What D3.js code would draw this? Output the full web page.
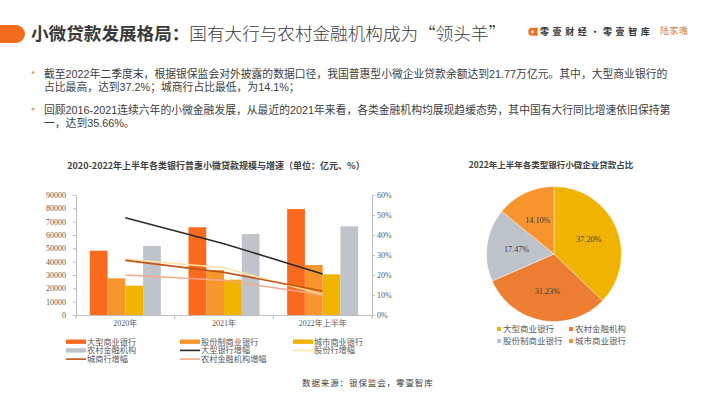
<!DOCTYPE html>
<html>
<head>
<meta charset="utf-8">
<script src="https://cdn.jsdelivr.net/npm/d3@7"></script>
<style>
body { margin: 0; background: #fff; }
svg text { font-family: 'Noto Sans CJK SC', sans-serif; }
.serif { font-family: 'Liberation Serif', 'Noto Sans CJK SC', serif !important; }
.body-text { font-family: 'Liberation Sans', 'Noto Sans CJK SC', sans-serif !important; }
</style>
</head>
<body>
<div id="container"></div>
<script>
'use strict';

const w = 710;
const h = 399;

// bar chart data (亿元) and growth (%)
const categories = ['2020年', '2021年', '2022年上半年'];
const bigBanks = [48200, 65800, 79500];
const jointStockBanks = [27500, 33700, 37500];
const cityBanks = [22000, 26500, 30500];
const ruralInstitutions = [51700, 60700, 66500];
const bigGrowth = [48.6, 35.66, 20.5];
const jointGrowth = [28.0, 23.6, 10.3];
const cityGrowth = [27.3, 21.3, 12.0];
const ruralGrowth = [20.0, 17.4, 10.0];
const leftTicks = [0, 10000, 20000, 30000, 40000, 50000, 60000, 70000, 80000, 90000];
const rightTicks = [0, 10, 20, 30, 40, 50, 60];

// pie data (%)
const pieNames = ['大型商业银行', '农村金融机构', '股份制商业银行', '城市商业银行'];
const pieValues = [37.20, 31.23, 17.47, 14.10];
const pieLabels = ['37.20%', '31.23%', '17.47%', '14.10%'];

const bulletLines = [
    ['截至2022年二季度末，根据银保监会对外披露的数据口径，我国普惠型小微企业贷款余额达到21.77万亿元。其中，大型商业银行的',
     '占比最高，达到37.2%；城商行占比最低，为14.1%；'],
    ['回顾2016-2021连续六年的小微金融发展，从最近的2021年来看，各类金融机构均展现趋缓态势，其中国有大行同比增速依旧保持第',
     '一，达到35.66%。']
];

const barSeries = [
    {name: '大型商业银行', values: bigBanks, color: '#FA6A1E'},
    {name: '股份制商业银行', values: jointStockBanks, color: '#F7962D'},
    {name: '城市商业银行', values: cityBanks, color: '#F0B400'},
    {name: '农村金融机构', values: ruralInstitutions, color: '#BFC4CA'}
];
const lineSeries = [
    {name: '大型银行增幅', values: bigGrowth, color: '#2B2B2B'},
    {name: '股份行增幅', values: jointGrowth, color: '#FFE3A0'},
    {name: '城商行增幅', values: cityGrowth, color: '#C0561A'},
    {name: '农村金融机构增幅', values: ruralGrowth, color: '#F5A98A'}
];
const pieColors = ['#F0B400', '#ED7D31', '#BEC3C9', '#F7942E'];

const svg = d3.select('#container')
                .append('svg')
                .attr('width', w)
                .attr('height', h);

// ---- header ----
svg.append('rect')
    .attr('x', -12).attr('y', 25)
    .attr('width', 37).attr('height', 18)
    .attr('rx', 9)
    .attr('fill', '#F26B1D');

const title = svg.append('text')
    .attr('x', 31)
    .attr('y', 34)
    .attr('dy', '0.36em')
    .attr('font-size', 17.6)
    .attr('fill', '#3a3a3a');
title.append('tspan').attr('font-weight', 'bold').text('小微贷款发展格局：');
title.append('tspan').attr('font-weight', 300).text('国有大行与农村金融机构成为“领头羊”');

// logo
svg.append('circle')
    .attr('cx', 532.3).attr('cy', 31.8).attr('r', 2.8)
    .attr('fill', 'none').attr('stroke', '#F26B1D').attr('stroke-width', 2.4);
svg.append('rect')
    .attr('x', 535).attr('y', 27.6).attr('width', 2.6).attr('height', 8.3)
    .attr('fill', '#F26B1D');
svg.append('text')
    .attr('x', 540).attr('y', 31.8).attr('dy', '0.36em')
    .attr('font-size', 9).attr('font-weight', 'bold')
    .attr('letter-spacing', 3.6)
    .attr('fill', '#333')
    .text('零壹财经·零壹智库');
svg.append('text')
    .attr('class', 'serif')
    .attr('x', 660).attr('y', 31).attr('dy', '0.36em')
    .attr('font-size', 9).attr('letter-spacing', 0.5)
    .attr('fill', '#CF874D')
    .text('陆家嘴');

// ---- bullets ----
bulletLines.forEach((lines, i) => {
    const top = 73.7 + i * 36.5;
    svg.append('circle')
        .attr('cx', 33).attr('cy', top - 1).attr('r', 1.4)
        .attr('fill', '#F5A05A');
    const t = svg.append('text')
        .attr('class', 'body-text')
        .attr('font-size', 10.8)
        .attr('fill', '#404040');
    lines.forEach((line, j) => {
        t.append('tspan')
            .attr('x', 44)
            .attr('y', top + j * 13.4)
            .attr('dy', '0.36em')
            .text(line);
    });
});

// ---- bar chart ----
svg.append('text')
    .attr('x', 216).attr('y', 165.7).attr('dy', '0.36em')
    .attr('text-anchor', 'middle')
    .attr('font-size', 9).attr('font-weight', 'bold')
    .attr('fill', '#404040')
    .text('2020-2022年上半年各类银行普惠小微贷款规模与增速（单位：亿元、%）');

const x0 = d3.scaleBand()
                .domain(categories)
                .range([76, 372])
                .paddingInner(0.28)
                .paddingOuter(0.14);
const x1 = d3.scaleBand()
                .domain(barSeries.map((s) => s.name))
                .range([0, x0.bandwidth()]);
const yLeft = d3.scaleLinear().domain([0, 90000]).range([315, 195]);
const yRight = d3.scaleLinear().domain([0, 60]).range([315, 195]);

barSeries.forEach((s) => {
    svg.append('g')
        .selectAll('rect')
        .data(s.values)
        .enter()
        .append('rect')
        .attr('x', (d, i) => x0(categories[i]) + x1(s.name))
        .attr('y', (d) => yLeft(d))
        .attr('width', x1.bandwidth())
        .attr('height', (d) => yLeft(0) - yLeft(d))
        .attr('fill', s.color);
});

const line = d3.line()
                .x((d, i) => x0(categories[i]) + x0.bandwidth() / 2)
                .y((d) => yRight(d));

lineSeries.forEach((s) => {
    svg.append('path')
        .datum(s.values)
        .attr('d', line)
        .attr('fill', 'none')
        .attr('stroke', s.color)
        .attr('stroke-width', 1.6);
});

const styleAxis = (g) => {
    g.selectAll('path, line').attr('stroke', '#BFBFBF');
    g.selectAll('text')
        .attr('class', 'serif')
        .attr('font-size', 8)
        .attr('fill', '#595959');
};

svg.append('g')
    .attr('transform', 'translate(76, 0)')
    .call(d3.axisLeft(yLeft)
            .tickValues(leftTicks)
            .tickFormat(d3.format('d'))
            .tickSize(3)
            .tickSizeOuter(0)
            .tickPadding(7))
    .call(styleAxis);

svg.append('g')
    .attr('transform', 'translate(372, 0)')
    .call(d3.axisRight(yRight)
            .tickValues(rightTicks)
            .tickFormat((d) => d + '%')
            .tickSize(3)
            .tickSizeOuter(0)
            .tickPadding(2))
    .call(styleAxis);

const xAxis = svg.append('g')
    .attr('transform', 'translate(0, 315)')
    .call(d3.axisBottom(x0)
            .tickSize(0)
            .tickSizeOuter(0)
            .tickPadding(5))
    .call(styleAxis);
xAxis.selectAll('.boundary')
    .data(d3.range(categories.length + 1))
    .enter()
    .append('line')
    .attr('class', 'boundary')
    .attr('x1', (d) => x0.range()[0] + d * x0.step())
    .attr('x2', (d) => x0.range()[0] + d * x0.step())
    .attr('y1', 0).attr('y2', 4)
    .attr('stroke', '#BFBFBF');

// legend of bar chart
const legendItems = [];
barSeries.forEach((s) => legendItems.push({name: s.name, color: s.color, type: 'bar'}));
lineSeries.forEach((s) => legendItems.push({name: s.name, color: s.color, type: 'line'}));

const legend = svg.append('g')
    .selectAll('g')
    .data(legendItems)
    .enter()
    .append('g')
    .attr('transform', (d, i) => 'translate(' + [66, 180, 293][i % 3] + ', ' + (341.7 + Math.floor(i / 3) * 8.7) + ')');
legend.append('rect')
    .attr('x', 0)
    .attr('y', (d) => d.type === 'bar' ? -2.2 : -0.8)
    .attr('width', 20)
    .attr('height', (d) => d.type === 'bar' ? 4.4 : 1.6)
    .attr('fill', (d) => d.color);
legend.append('text')
    .attr('class', 'serif')
    .attr('x', 21)
    .attr('dy', '0.36em')
    .attr('font-size', 8.2)
    .attr('fill', '#595959')
    .text((d) => d.name);

// ---- pie ----
svg.append('text')
    .attr('x', 551).attr('y', 165.3).attr('dy', '0.36em')
    .attr('text-anchor', 'middle')
    .attr('font-size', 8.5).attr('font-weight', 'bold')
    .attr('fill', '#404040')
    .text('2022年上半年各类型银行小微企业贷款占比');

const r = 67.5;
const arcs = d3.pie().sort(null).value((d) => d)(pieValues);
const arc = d3.arc().innerRadius(0).outerRadius(r);
const labelArc = d3.arc().innerRadius(r * 0.56).outerRadius(r * 0.56);

const pieG = svg.append('g').attr('transform', 'translate(554, 254)');
pieG.selectAll('path')
    .data(arcs)
    .enter()
    .append('path')
    .attr('d', arc)
    .attr('fill', (d, i) => pieColors[i])
    .attr('stroke', '#fff')
    .attr('stroke-width', 0.4);
pieG.selectAll('text')
    .data(arcs)
    .enter()
    .append('text')
    .attr('class', 'serif')
    .attr('transform', (d) => 'translate(' + labelArc.centroid(d) + ')')
    .attr('text-anchor', 'middle')
    .attr('dy', '0.36em')
    .attr('font-size', 8.2)
    .attr('fill', '#404040')
    .text((d, i) => pieLabels[i]);

const pieLegend = svg.append('g')
    .selectAll('g')
    .data(pieNames)
    .enter()
    .append('g')
    .attr('transform', (d, i) => 'translate(' + [497, 569][i % 2] + ', ' + (329 + Math.floor(i / 2) * 12) + ')');
pieLegend.append('rect')
    .attr('x', 0).attr('y', -2)
    .attr('width', 4).attr('height', 4)
    .attr('fill', (d, i) => pieColors[i]);
pieLegend.append('text')
    .attr('class', 'serif')
    .attr('x', 6)
    .attr('dy', '0.36em')
    .attr('font-size', 8.5)
    .attr('fill', '#595959')
    .text((d) => d);

// ---- source ----
svg.append('text')
    .attr('class', 'serif')
    .attr('x', 302).attr('y', 382.7).attr('dy', '0.36em')
    .attr('font-size', 8.5)
    .attr('letter-spacing', 0.9)
    .attr('fill', '#404040')
    .text('数据来源：银保监会，零壹智库');
</script>
</body>
</html>
